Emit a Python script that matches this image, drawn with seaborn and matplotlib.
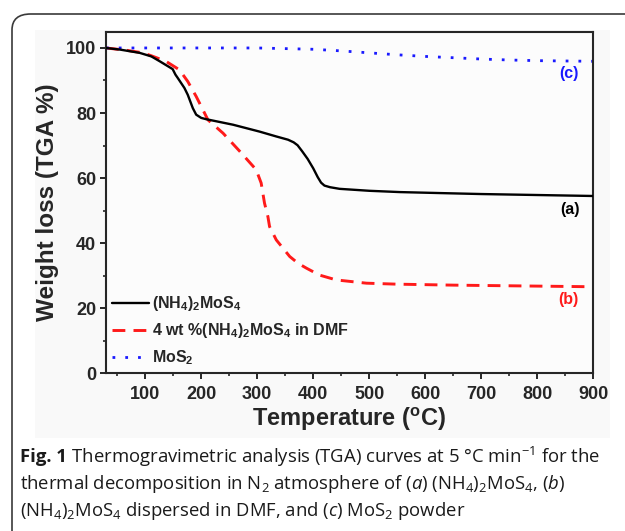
#%% ---- Load Packages ----
import pandas as pd
import numpy as np
import matplotlib
matplotlib.use("Agg")
import matplotlib.pyplot as plt
from matplotlib.patches import FancyBboxPatch, Rectangle
from matplotlib.lines import Line2D
import seaborn as sns

# %% ---- Data ----
temp_a = [30, 55, 90, 111, 126, 149, 154, 158, 170, 176, 185, 191, 200, 209, 257, 304, 334,
          355, 365, 372, 380, 390, 400, 408, 414, 420, 430, 447, 500, 555, 626, 700, 800, 900]
wl_a = [100, 99.5, 98.5, 97.4, 95.9, 93.5, 91.8, 90.8, 87.7, 85.6, 81.5, 79.5, 78.5, 78.1, 76.4, 74.3, 72.8,
        71.8, 71.0, 70.1, 68.3, 65.9, 63.0, 60.3, 58.6, 57.7, 57.2, 56.7, 56.1, 55.7, 55.4, 55.1, 54.8, 54.5]

temp_b = [30, 66, 96, 111, 137, 161, 176, 191, 203, 212, 239, 269, 298, 307, 313, 319, 322,
          334, 358, 373, 388, 411, 441, 495, 549, 650, 750, 900]
wl_b = [100, 99.3, 98.5, 97.6, 95.9, 93.3, 89.7, 85.1, 81, 77.9, 73.8, 68.2, 62.6, 58.5, 52.3, 48.2, 45.1,
        41, 35.9, 33.8, 32.3, 30.2, 28.7, 27.7, 27.4, 27.1, 26.9, 26.6]

temp_c = [30, 100, 200, 300, 350, 400, 450, 500, 550, 600, 650, 700, 750, 800, 850, 900]
wl_c = [100, 100, 100, 100, 99.8, 99.6, 99.1, 98.5, 97.9, 97.4, 97.0, 96.6, 96.3, 96.1, 96.0, 95.9]

labels = [r'(NH$_\mathbf{4}$)$_\mathbf{2}$MoS$_\mathbf{4}$',
          r'4 wt %(NH$_\mathbf{4}$)$_\mathbf{2}$MoS$_\mathbf{4}$ in DMF',
          r'MoS$_\mathbf{2}$']
tags = ['(a)', '(b)', '(c)']
tag_x = [858, 855, 857]
tag_y = [50.2, 22.6, 92.0]

caption_head = 'Fig. 1'
caption = [r' Thermogravimetric analysis (TGA) curves at 5 °C min$^{-1}$ for the',
           r'thermal decomposition in N$_2$ atmosphere of ($a$) (NH$_4$)$_2$MoS$_4$, ($b$)',
           r'(NH$_4$)$_2$MoS$_4$ dispersed in DMF, and ($c$) MoS$_2$ powder']

# %% ---- Style ----
sns.set_style("ticks")
plt.rcParams['font.family'] = ['Liberation Sans', 'DejaVu Sans']
plt.rcParams['mathtext.fontset'] = 'custom'
plt.rcParams['mathtext.rm'] = 'Open Sans'
plt.rcParams['mathtext.it'] = 'Open Sans:italic'
plt.rcParams['mathtext.bf'] = 'Liberation Sans:bold'

df_a = pd.DataFrame({'T': temp_a, 'W': wl_a})
df_b = pd.DataFrame({'T': temp_b, 'W': wl_b})
df_c = pd.DataFrame({'T': temp_c, 'W': wl_c})

W, H = 625, 531
fig = plt.figure(figsize=(W / 100, H / 100), dpi=100)
fig.patch.set_facecolor('white')

# rounded frame and pale chart panel
fig.patches.append(FancyBboxPatch((12 / W, -0.05), 1.2, (H - 14) / H + 0.05,
                                  boxstyle="round,pad=0,rounding_size=0.03",
                                  transform=fig.transFigure, fill=False,
                                  edgecolor='#3a3a3a', lw=1.2, zorder=-2))
fig.patches.append(Rectangle((35 / W, (H - 438) / H), 575 / W, 408 / H,
                             transform=fig.transFigure, facecolor='#f9f9f9',
                             edgecolor='none', zorder=-1))

ax = fig.add_axes([106 / W, (H - 373.3) / H, 487.3 / W, 341.6 / H])
ax.set_zorder(2)
ax.set_facecolor('#fcfcfc')

sns.lineplot(data=df_a, x='T', y='W', ax=ax, color='black', lw=1.7, zorder=3)
sns.lineplot(data=df_b, x='T', y='W', ax=ax, color='#ff1a1a', lw=2.1, zorder=2)
sns.lineplot(data=df_c, x='T', y='W', ax=ax, color='#1a1aff', lw=2.0, zorder=2)
lines = ax.get_lines()
lines[1].set_linestyle((0, (4.4, 2.8)))
lines[2].set_linestyle((0, (1, 3.6)))

ax.set_xlim(30, 900)
ax.set_ylim(0, 105)
ax.set_xticks(range(100, 901, 100))
ax.set_xticks(range(50, 901, 100), minor=True)
ax.set_yticks(range(0, 101, 20))
ax.set_yticks(range(10, 101, 20), minor=True)
ax.tick_params(which='major', direction='out', length=4, width=1.4, labelsize=13, pad=3)
ax.tick_params(axis='x', which='major', pad=5)
ax.tick_params(which='minor', direction='out', length=2.5, width=1.2)
for lab in ax.get_xticklabels() + ax.get_yticklabels():
    lab.set_fontweight('bold')
for s in ax.spines.values():
    s.set_linewidth(1.5)
    s.set_visible(True)

ax.set_xlabel(r'Temperature ($^\mathbf{o}$C)', fontsize=17, fontweight='bold', labelpad=2)
ax.set_ylabel('Weight loss (TGA %)', fontsize=17.5, fontweight='bold', labelpad=5)

for t, x, y, c in zip(tags, tag_x, tag_y, ['black', '#ff1a1a', '#1a1aff']):
    ax.text(x, y, t, color=c, fontsize=11.5, fontweight='bold', ha='center', va='center')

handles = [Line2D([], [], color='black', lw=1.7),
           Line2D([], [], color='#ff1a1a', lw=2.1, ls=(0, (4.4, 2.8))),
           Line2D([], [], color='#1a1aff', lw=2.0, ls=(0, (1, 3.6)))]
ax.legend(handles, labels, loc='lower left', frameon=False, prop={'weight': 'bold', 'size': 11.5},
          handlelength=2.3, handletextpad=0.15, labelspacing=0.5,
          borderaxespad=0.0, bbox_to_anchor=(0.0, 0.0))

# caption: bold head then the rest of the first line
cap_size = 13.3
head = fig.text(20 / W, 1 - 457 / H, caption_head, fontsize=cap_size, family='Open Sans',
                fontweight='bold', ha='left', va='center', color='#1a1a1a')
renderer = fig.canvas.get_renderer()
bb = head.get_window_extent(renderer=renderer)
for i, line in enumerate(caption):
    x0 = bb.x1 / W if i == 0 else 20 / W
    fig.text(x0, 1 - (457 + 27 * i) / H, line, fontsize=cap_size, family='Open Sans',
             fontweight='normal', ha='left', va='center', color='#1a1a1a')

fig.savefig('out.png', dpi=100)
